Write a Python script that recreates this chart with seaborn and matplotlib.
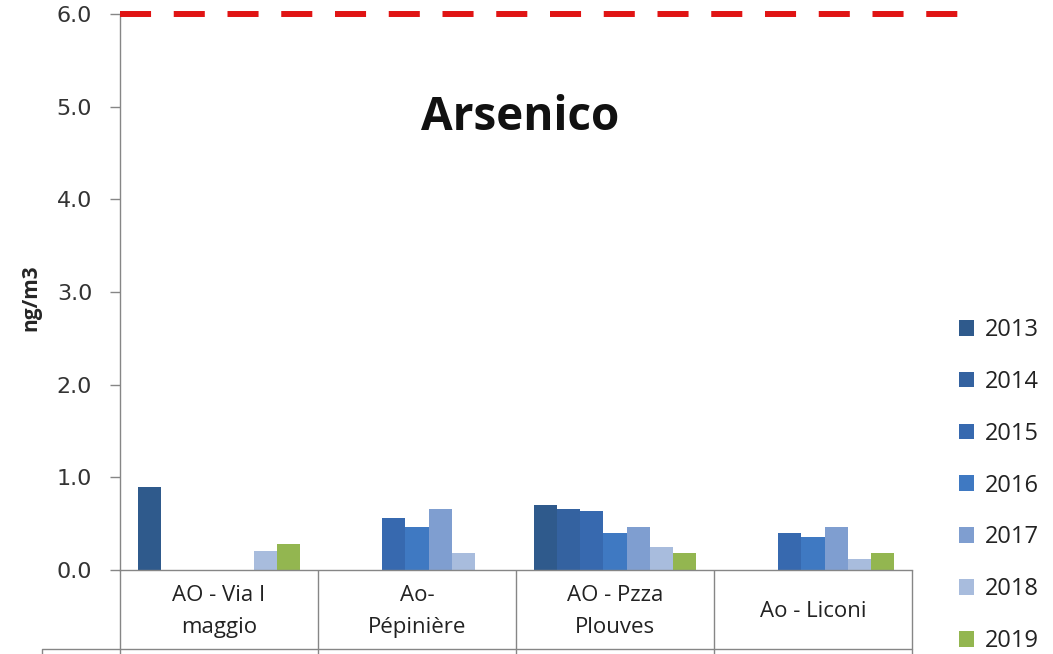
import numpy as np
import pandas as pd
import matplotlib
matplotlib.use("Agg")
import matplotlib.pyplot as plt
import matplotlib.transforms as mtransforms
import seaborn as sns

# ---- data ----
stations = ["AO - Via I\nmaggio", "Ao-\nPépinière", "AO - Pzza\nPlouves", "Ao - Liconi"]
years = ["2013", "2014", "2015", "2016", "2017", "2018", "2019"]
v2013 = [0.90, None, 0.70, None]
v2014 = [None, None, 0.66, None]
v2015 = [None, 0.56, 0.64, 0.40]
v2016 = [None, 0.46, 0.40, 0.36]
v2017 = [None, 0.66, 0.46, 0.46]
v2018 = [0.20, 0.18, 0.245, 0.12]
v2019 = [0.28, None, 0.18, 0.18]
limit_value = 6.0
title = "Arsenico"
ylabel = "ng/m3"
yticks = [0.0, 1.0, 2.0, 3.0, 4.0, 5.0, 6.0]
colors = ["#2F5A8C", "#3462A0", "#3769AF", "#3F79C2", "#7F9ED0", "#A8BCDD", "#93B650"]

series = [v2013, v2014, v2015, v2016, v2017, v2018, v2019]
rows = []
for y, vals in zip(years, series):
    for s, v in zip(stations, vals):
        if v is not None:
            rows.append({"station": s, "year": y, "value": v})
df = pd.DataFrame(rows)

sns.set_style("white")
plt.rcParams["font.family"] = ["DejaVu Sans"]

fig = plt.figure(figsize=(10.53, 6.54), dpi=100)
ax = fig.add_axes([120/1053, 1-570/654, 792/1053, 556/654])

sns.barplot(data=df, x="station", y="value", hue="year", order=stations,
            hue_order=years, palette=colors, width=0.815, gap=0,
            saturation=1, linewidth=0, errorbar=None, ax=ax)

ax.set_xlim(-0.5, len(stations) - 0.5)
ax.set_ylim(0, limit_value)
ax.set_yticks(yticks)
ax.set_yticklabels([f"{t:.1f}" for t in yticks], fontsize=16, color="#333333")
ax.tick_params(axis="y", direction="out", length=7, width=1, color="#868686", pad=13, left=True)
ax.tick_params(axis="x", length=0, pad=30)
ax.set_xlabel("")
for lbl in ax.get_xticklabels():
    lbl.set_va("center")
    lbl.set_fontfamily("Open Sans")
    lbl.set_fontsize(16)
    lbl.set_linespacing(1.65)
    lbl.set_color("#222222")

for side in ["top", "right"]:
    ax.spines[side].set_visible(False)
for side in ["left", "bottom"]:
    ax.spines[side].set_color("#868686")
    ax.spines[side].set_linewidth(1.0)

ax.set_ylabel(ylabel, fontfamily="Open Sans", fontweight="bold", fontsize=15, va="center")
ax.yaxis.set_label_coords((31-120)/792, 0.49)

# category table lines below axis
trans = mtransforms.blended_transform_factory(ax.transData, ax.transAxes)
seps = np.arange(len(stations) + 1) - 0.5
ax.vlines(seps, -0.152, 0, transform=trans, colors="#868686", lw=1.0, clip_on=False)
ax.plot([-0.098, -0.098, 1.0], [-0.152, -0.142, -0.142], transform=ax.transAxes,
        color="#868686", lw=1.0, clip_on=False)

# limit line
ax.axhline(limit_value, xmin=0, xmax=1.061, color="#E01414", lw=4.3,
           dashes=(5.2, 3.8), solid_capstyle="butt", dash_capstyle="butt", clip_on=False, zorder=5)

ax.text(0.505, 0.813, title, transform=ax.transAxes, ha="center", va="center",
        fontfamily="Open Sans", fontweight="bold", fontsize=33, color="#111111")

sns.move_legend(ax, loc="upper left", bbox_to_anchor=(959/1053, 1-318/654),
                bbox_transform=fig.transFigure, frameon=False, title=None,
                fontsize=17, handlelength=0.65, handleheight=0.65, handletextpad=0.45,
                labelspacing=1.18, borderaxespad=0, borderpad=0)
for t in ax.get_legend().get_texts():
    t.set_fontfamily("Open Sans")
    t.set_color("#222222")

fig.savefig("out.png", dpi=100)
